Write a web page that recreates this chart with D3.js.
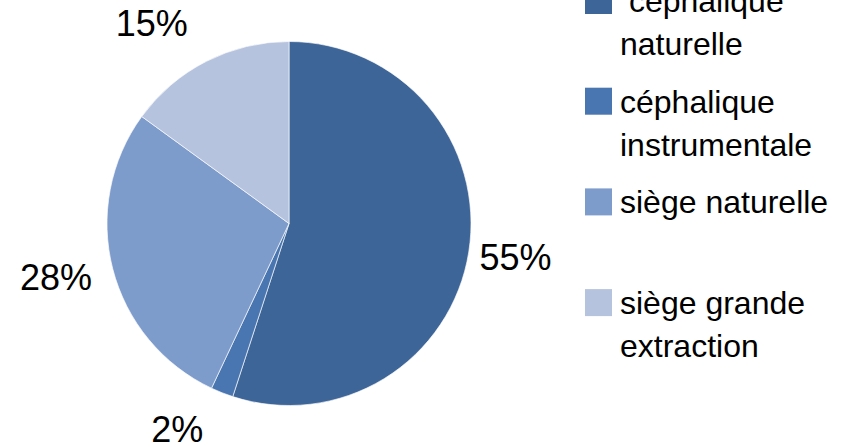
<!DOCTYPE html>
<html>
<head>
<meta charset="utf-8">
<script src="https://cdn.jsdelivr.net/npm/d3@7"></script>
<style>
  html, body { margin: 0; padding: 0; background: #fff; }
  svg { display: block; }
  text { font-family: "Liberation Sans", Arial, sans-serif; fill: #000; }
</style>
</head>
<body>
<svg id="chart" width="848" height="447"></svg>
<script>
// Mode d'accouchement (%)
const categories = [" céphalique naturelle", "céphalique instrumentale", "siège naturelle", "siège grande extraction"];
const values = [55, 2, 28, 15];
const valueLabels = ["55%", "2%", "28%", "15%"];
const legendLines = [[" céphalique", "naturelle"], ["céphalique", "instrumentale"], ["siège naturelle"], ["siège grande", "extraction"]];
const colors = ["#3e6598", "#4976b0", "#7e9ccb", "#b6c3de"];

const svg = d3.select("#chart");
const cx = 289, cy = 223.5, r = 182;

const pie = d3.pie().sort(null).value(d => d)(values);
const arc = d3.arc().innerRadius(0).outerRadius(r);

const g = svg.append("g").attr("transform", `translate(${cx},${cy})`);

g.selectAll("path.slice")
  .data(pie)
  .join("path")
  .attr("class", "slice")
  .attr("d", arc)
  .attr("fill", (d, i) => colors[i])
  .attr("stroke", "#ffffff")
  .attr("stroke-width", 0.8)
  .attr("stroke-opacity", 0.8);

// percentage labels placed outside the pie, near each slice's mid-angle
const labelR = [229, 234, 239, 243];
const angleNudge = [-0.6, 6.9, 1.5, -7.4].map(a => a * Math.PI / 180);
const pctFont = 36;
g.selectAll("text.pct")
  .data(pie)
  .join("text")
  .attr("class", "pct")
  .attr("text-anchor", "middle")
  .attr("font-size", pctFont)
  .attr("x", (d, i) => labelR[i] * Math.sin((d.startAngle + d.endAngle) / 2 + angleNudge[i]))
  .attr("y", (d, i) => -labelR[i] * Math.cos((d.startAngle + d.endAngle) / 2 + angleNudge[i]) + pctFont * 0.36)
  .text((d, i) => valueLabels[i]);

// legend
const legX = 585, sq = 27, textX = 620, itemStep = 100.7, firstTop = -13, lineH = 43;
const legFont = 32;
const items = svg.append("g").selectAll("g.item")
  .data(categories)
  .join("g")
  .attr("class", "item")
  .attr("transform", (d, i) => `translate(0,${firstTop + i * itemStep})`);

items.append("rect")
  .attr("x", legX).attr("y", 0)
  .attr("width", sq).attr("height", sq)
  .attr("fill", (d, i) => colors[i]);

items.each(function (d, i) {
  const sel = d3.select(this);
  legendLines[i].forEach((line, j) => {
    sel.append("text")
      .attr("font-size", legFont)
      .style("white-space", "pre")
      .attr("x", textX)
      .attr("y", sq - 2 + j * lineH)
      .text(line);
  });
});
</script>
</body>
</html>
